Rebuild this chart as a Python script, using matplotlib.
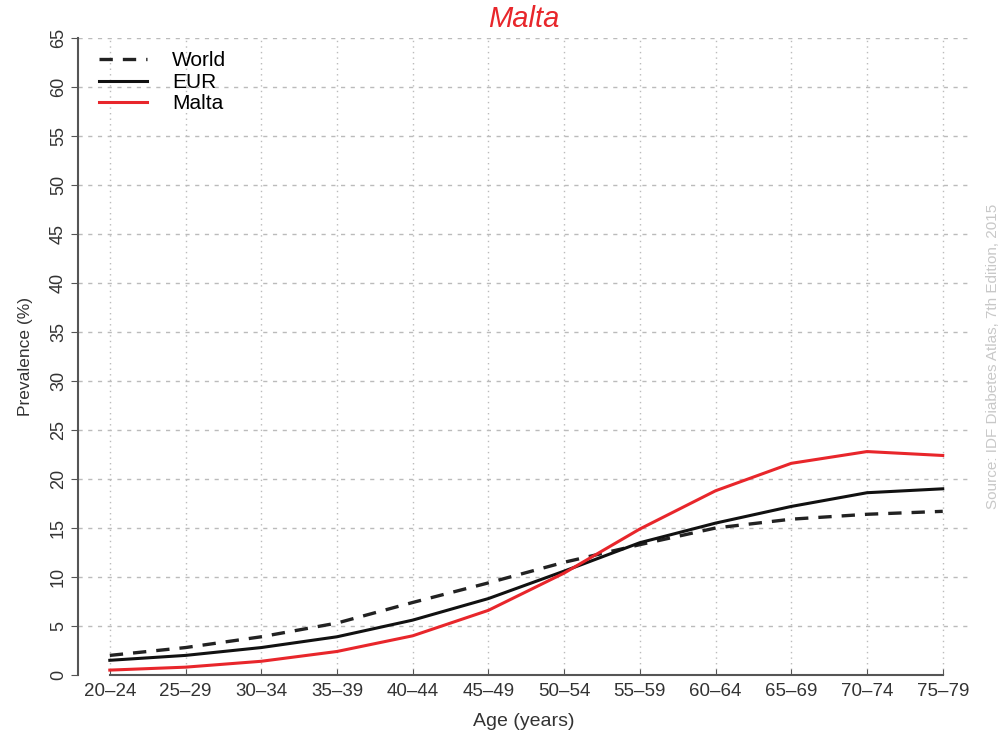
import matplotlib.pyplot as plt
import numpy as np

plt.rcParams['font.family'] = ['Liberation Sans', 'DejaVu Sans']

# age groups on the x axis
ages = ["20\u201324", "25\u201329", "30\u201334", "35\u201339", "40\u201344", "45\u201349",
        "50\u201354", "55\u201359", "60\u201364", "65\u201369", "70\u201374", "75\u201379"]

# prevalence (%)
world = [2.0, 2.8, 3.9, 5.3, 7.4, 9.4, 11.5, 13.3, 15.0, 15.9, 16.4, 16.7]
eur = [1.5, 2.0, 2.8, 3.9, 5.6, 7.8, 10.6, 13.5, 15.5, 17.2, 18.6, 19.0]
malta = [0.5, 0.8, 1.4, 2.4, 4.0, 6.6, 10.4, 14.9, 18.8, 21.6, 22.8, 22.4]

yticks = np.arange(0, 70, 5)

fig = plt.figure(figsize=(10.03, 7.31), dpi=100)
ax = fig.add_axes([78 / 1003, (731 - 675) / 731, (970 - 78) / 1003, (675 - 38) / 731])

x = np.arange(len(ages))
ax.plot(x, world, color="#222222", lw=2.4, ls=(0, (4, 3)), label="World")
ax.plot(x, eur, color="#111111", lw=2.2, label="EUR")
ax.plot(x, malta, color="#e8262b", lw=2.2, label="Malta")

ax.set_xlim(-0.42, 11.36)
ax.set_ylim(0, 65)
ax.set_xticks(x)
ax.set_xticklabels(ages, fontsize=13.5, color="#333333")
ax.set_yticks(yticks)
ax.set_yticklabels([str(v) for v in yticks], fontsize=13, color="#333333",
                   rotation=90, va="center")

# dotted grid
for v in yticks[1:]:
    ax.axhline(v, color="#bbbbbb", lw=1.0, ls=(0, (3, 4)), zorder=0)
for xi in x:
    ax.axvline(xi, color="#bbbbbb", lw=1.0, ls=(0, (1, 3)), zorder=0)

for s in ["top", "right"]:
    ax.spines[s].set_visible(False)
ax.spines["left"].set_bounds(0, 65)
ax.spines["bottom"].set_bounds(0, 11)
ax.spines["left"].set_color("#555555")
ax.spines["bottom"].set_color("#555555")
ax.spines["left"].set_linewidth(1.5)
ax.spines["bottom"].set_linewidth(1.5)
ax.tick_params(axis="y", length=5, color="#555555", pad=3)
ax.tick_params(axis="x", length=4, direction="in", color="#555555", pad=6)

ax.set_xlabel("Age (years)", fontsize=14, color="#333333", labelpad=9)
ax.set_ylabel("Prevalence (%)", fontsize=12.5, color="#333333", labelpad=12)
ax.set_title("Malta", fontsize=21, color="#e8262b", style="italic", pad=8)

ax.legend(loc="upper left", frameon=False, fontsize=15, handlelength=2.3,
          handletextpad=1.2, borderaxespad=0.4, labelspacing=0.12,
          bbox_to_anchor=(0.005, 1.005))

fig.text(0.990, 0.512, "Source: IDF Diabetes Atlas, 7th Edition, 2015", rotation=90,
         color="#c8c8c8", fontsize=11, ha="center", va="center")

fig.savefig("out.png", dpi=100)
